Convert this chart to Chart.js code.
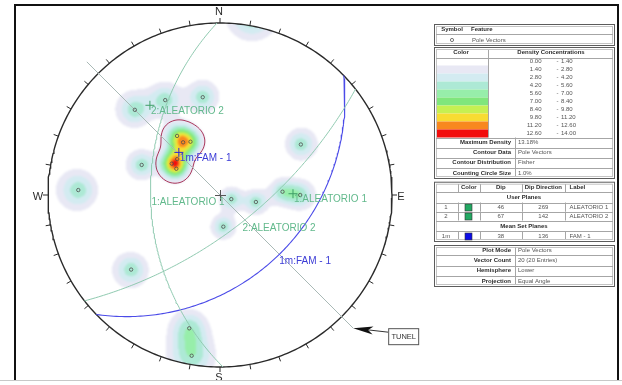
<!DOCTYPE html>
<html>
<head>
<meta charset="utf-8">
<script src="https://cdn.jsdelivr.net/npm/chart.js@4.4.1/dist/chart.umd.min.js"></script>
<style>
  html, body { margin: 0; padding: 0; background: #fff; overflow: hidden; }
  canvas { display: block; }
</style>
</head>
<body>
<canvas id="net" width="622" height="385"></canvas>
<script>
// ---- Pole vectors: trend / plunge in degrees ----
const poleTrends  = [330, 350, 315, 291, 272, 230, 58, 174, 110, 101, 87, 90, 193, 190, 324, 331, 325, 310, 303, 301];
const polePlunges = [ 25,  30,  20,  38,  11,  22, 32,  69,  82,  66, 50, 40,  13,   3,  44,  51,  49,  54,  53,  57];
// poles that make up mean set 1m
const setMembers = [14, 15, 16, 17, 18, 19];

// ---- Planes ----
const planeIds     = ['1', '2', '1m'];
const planeLabels  = ['1:ALEATORIO 1', '2:ALEATORIO 2', '1m:FAM - 1'];
const tableLabels  = ['ALEATORIO 1', 'ALEATORIO 2', 'FAM - 1'];
const planeDips    = [46, 67, 38];
const planeDipDirs = [269, 142, 136];
const planeKinds   = ['user', 'user', 'mean'];

// ---- Contouring ----
const densityLevels = [0, 1.4, 2.8, 4.2, 5.6, 7.0, 8.4, 9.8, 11.2, 12.6, 14.0];
const levelColors   = ['#ffffff', '#e8e8f4', '#d3ebf1', '#ade9d5', '#97eeaa', '#80e67c',
                       '#c6f052', '#f8dc32', '#f8881f', '#f20d0d'];
const maxDensity     = 13.18;   // %
const countingCircle = 1.0;     // % of hemisphere area
const setWindowLevel = 1.6;     // %

// ---- Tunnel axis ----
const tunnelTrend  = 135;
const tunnelExtent = 1.095;     // in primitive radii
const tunnelLabel  = 'TUNEL';

const D2R = Math.PI / 180;
const N = poleTrends.length;
const K = 120 / countingCircle;   // Fisher concentration used for the contours

const FONT = '"Liberation Sans", Arial, sans-serif';
const USER_LINE = '#8fcab0', USER_TEXT = '#62b98c', USER_MARK = '#3f9f68';
const MEAN_LINE = '#4b4be8', MEAN_TEXT = '#3c3cd6', MEAN_MARK = '#2a2ad0';

// unit vector (east, north, up) of a line given trend / plunge
function dirVec(trend, plunge) {
  const t = trend * D2R, p = plunge * D2R;
  return [Math.cos(p) * Math.sin(t), Math.cos(p) * Math.cos(t), -Math.sin(p)];
}
// equal-angle, lower hemisphere
function project(v) {
  let [e, n, u] = v;
  if (u > 0) { e = -e; n = -n; u = -u; }
  const k = 1 / (1 - u);
  return { x: e * k, y: n * k };
}
function unproject(x, y) {
  const r2 = x * x + y * y, s = 1 + r2;
  return [2 * x / s, 2 * y / s, -(1 - r2) / s];
}
const poleVecs = poleTrends.map((t, i) => dirVec(t, polePlunges[i]));
const allIdx = poleVecs.map((_, i) => i);

// Fisher density in % per 1% area
function density(v, idx) {
  let s = 0;
  for (const i of idx) {
    const p = poleVecs[i];
    const c = Math.abs(v[0] * p[0] + v[1] * p[1] + v[2] * p[2]);
    s += Math.exp(K * (c - 1));
  }
  return 100 * s / N;
}
function levelIndex(d) {
  for (let i = densityLevels.length - 2; i >= 0; i--) if (d >= densityLevels[i]) return i;
  return 0;
}

function greatCircle(dip, dipDir) {
  const s = (dipDir - 90) * D2R, a = dipDir * D2R, d = dip * D2R;
  const sv = [Math.sin(s), Math.cos(s), 0];
  const dv = [Math.cos(d) * Math.sin(a), Math.cos(d) * Math.cos(a), -Math.sin(d)];
  const pts = [];
  for (let t = 0; t <= 180; t += 1) {
    const c = Math.cos(t * D2R), sn = Math.sin(t * D2R);
    pts.push(project([c * sv[0] + sn * dv[0], c * sv[1] + sn * dv[1], c * sv[2] + sn * dv[2]]));
  }
  return pts;
}
const dipVec  = i => dirVec(planeDipDirs[i], planeDips[i]);
const planePole = i => project(dirVec(planeDipDirs[i] + 180, 90 - planeDips[i]));

const primitive = [];
for (let a = 0; a <= 360; a += 1) primitive.push({ x: Math.sin(a * D2R), y: Math.cos(a * D2R) });
const tunnelPts = [
  { x: -tunnelExtent * Math.sin(tunnelTrend * D2R), y: -tunnelExtent * Math.cos(tunnelTrend * D2R) },
  { x:  tunnelExtent * Math.sin(tunnelTrend * D2R), y:  tunnelExtent * Math.cos(tunnelTrend * D2R) }
];

function hexRgb(h) { return [parseInt(h.substr(1, 2), 16), parseInt(h.substr(3, 2), 16), parseInt(h.substr(5, 2), 16)]; }
const levelRgb = levelColors.map(hexRgb);

// ---- density raster + set window ----
let raster = null;
const densityPlugin = {
  id: 'densityRaster',
  beforeDatasetsDraw(chart) {
    const { ctx, chartArea: a, scales: { x: xs, y: ys } } = chart;
    const cx = xs.getPixelForValue(0), cy = ys.getPixelForValue(0);
    const R = xs.getPixelForValue(1) - cx;
    if (!raster) {
      raster = document.createElement('canvas');
      raster.width = chart.width; raster.height = chart.height;
      const rc = raster.getContext('2d');
      const img = rc.createImageData(chart.width, chart.height);
      for (let py = Math.floor(a.top); py < Math.ceil(a.bottom); py++) {
        for (let px = Math.floor(a.left); px < Math.ceil(a.right); px++) {
          const vx = xs.getValueForPixel(px + 0.5), vy = ys.getValueForPixel(py + 0.5);
          if (vx * vx + vy * vy > 1.02) continue;
          const d = density(unproject(vx, vy), allIdx);
          const c = levelRgb[levelIndex(d)];
          const o = (py * chart.width + px) * 4;
          img.data[o] = c[0]; img.data[o + 1] = c[1]; img.data[o + 2] = c[2]; img.data[o + 3] = 255;
        }
      }
      rc.putImageData(img, 0, 0);
    }
    ctx.save();
    ctx.beginPath(); ctx.arc(cx, cy, R, 0, Math.PI * 2); ctx.clip();
    ctx.filter = 'blur(0.8px)';
    ctx.drawImage(raster, 0, 0);
    ctx.filter = 'none';

    // set window: contour of member density
    const step = 2;
    const nx = Math.ceil((a.right - a.left) / step) + 1, ny = Math.ceil((a.bottom - a.top) / step) + 1;
    const f = new Float32Array(nx * ny);
    for (let j = 0; j < ny; j++) for (let i = 0; i < nx; i++) {
      const vx = xs.getValueForPixel(a.left + i * step), vy = ys.getValueForPixel(a.top + j * step);
      f[j * nx + i] = (vx * vx + vy * vy > 1) ? 0 : density(unproject(vx, vy), setMembers);
    }
    const L = setWindowLevel;
    const ed = (v1, v2, x1, y1, x2, y2) => { const t = (L - v1) / (v2 - v1); return [x1 + t * (x2 - x1), y1 + t * (y2 - y1)]; };
    ctx.strokeStyle = '#a0234a'; ctx.lineWidth = 0.9;
    ctx.beginPath();
    for (let j = 0; j < ny - 1; j++) for (let i = 0; i < nx - 1; i++) {
      const A = f[j * nx + i], B = f[j * nx + i + 1], C = f[(j + 1) * nx + i + 1], Dd = f[(j + 1) * nx + i];
      const pts = [];
      if ((A >= L) !== (B >= L)) pts.push(ed(A, B, i, j, i + 1, j));
      if ((B >= L) !== (C >= L)) pts.push(ed(B, C, i + 1, j, i + 1, j + 1));
      if ((C >= L) !== (Dd >= L)) pts.push(ed(C, Dd, i + 1, j + 1, i, j + 1));
      if ((Dd >= L) !== (A >= L)) pts.push(ed(Dd, A, i, j + 1, i, j));
      for (let k = 0; k + 1 < pts.length; k += 2) {
        ctx.moveTo(a.left + pts[k][0] * step, a.top + pts[k][1] * step);
        ctx.lineTo(a.left + pts[k + 1][0] * step, a.top + pts[k + 1][1] * step);
      }
    }
    ctx.stroke();
    ctx.restore();
  }
};

// ---- net furniture and annotations ----
const netPlugin = {
  id: 'netFurniture',
  afterDatasetsDraw(chart) {
    const { ctx, scales: { x: xs, y: ys } } = chart;
    const cx = xs.getPixelForValue(0), cy = ys.getPixelForValue(0);
    const R = xs.getPixelForValue(1) - cx;
    const P = p => ({ x: xs.getPixelForValue(p.x), y: ys.getPixelForValue(p.y) });
    ctx.save();
    // ticks every 10 degrees
    ctx.strokeStyle = '#2a2a2a'; ctx.lineWidth = 1;
    ctx.beginPath();
    for (let az = 0; az < 360; az += 10) {
      const s = Math.sin(az * D2R), c = Math.cos(az * D2R);
      ctx.moveTo(cx + s * R, cy - c * R);
      ctx.lineTo(cx + s * (R + 5), cy - c * (R + 5));
    }
    ctx.stroke();
    // compass letters
    ctx.fillStyle = '#2a2a2a'; ctx.font = '11px ' + FONT;
    ctx.textAlign = 'center'; ctx.textBaseline = 'middle';
    ctx.fillText('N', cx - 1, cy - R - 11);
    ctx.fillText('S', cx - 1, cy + R + 11);
    ctx.fillText('E', cx + R + 9, cy + 2);
    ctx.fillText('W', cx - R - 10, cy + 2);
    // centre cross
    ctx.strokeStyle = '#555'; ctx.lineWidth = 1;
    ctx.beginPath();
    ctx.moveTo(cx - 5, cy + 0.5); ctx.lineTo(cx + 6, cy + 0.5);
    ctx.moveTo(cx + 0.5, cy - 5); ctx.lineTo(cx + 0.5, cy + 6);
    ctx.stroke();

    // plane labels: at the dip point of each great circle and at each pole
    ctx.font = '10px ' + FONT; ctx.textAlign = 'left'; ctx.textBaseline = 'top';
    planeLabels.forEach((lab, i) => {
      ctx.fillStyle = planeKinds[i] === 'mean' ? MEAN_TEXT : USER_TEXT;
      const g = P(project(dipVec(i)));
      ctx.fillText(lab, g.x + 1, g.y + 1);
      const p = P(planePole(i));
      ctx.fillText(lab, p.x + 1, p.y + 1);
    });

    // tunnel arrow and label box
    const tip = P(tunnelPts[1]);
    const bx = tip.x + 35, by = tip.y, bw = 30, bh = 16;
    const ax = bx, ay = by + 4;
    const ang = Math.atan2(ay - tip.y, ax - tip.x);
    const ux = Math.cos(ang), uy = Math.sin(ang);
    ctx.strokeStyle = '#333'; ctx.lineWidth = 1;
    ctx.beginPath(); ctx.moveTo(tip.x + ux * 15, tip.y + uy * 15); ctx.lineTo(ax, ay); ctx.stroke();
    ctx.fillStyle = '#111';
    ctx.beginPath();
    ctx.moveTo(tip.x, tip.y);
    ctx.lineTo(tip.x + ux * 20 - uy * 4, tip.y + uy * 20 + ux * 4);
    ctx.lineTo(tip.x + ux * 15, tip.y + uy * 15);
    ctx.lineTo(tip.x + ux * 20 + uy * 4, tip.y + uy * 20 - ux * 4);
    ctx.closePath(); ctx.fill();
    ctx.fillStyle = '#fff'; ctx.fillRect(bx, by, bw, bh);
    ctx.strokeStyle = '#555'; ctx.strokeRect(bx + 0.5, by + 0.5, bw, bh);
    ctx.fillStyle = '#333'; ctx.font = '7.5px ' + FONT; ctx.textAlign = 'center'; ctx.textBaseline = 'middle';
    ctx.fillText(tunnelLabel, bx + bw / 2 + 0.5, by + bh / 2 + 1);
    ctx.restore();
  }
};

// ---- legend tables and frame ----
const statsLabels = ['Maximum Density', 'Contour Data', 'Contour Distribution', 'Counting Circle Size'];
const statsValues = [maxDensity.toFixed(2) + '%', 'Pole Vectors', 'Fisher', countingCircle.toFixed(1) + '%'];
const infoLabels  = ['Plot Mode', 'Vector Count', 'Hemisphere', 'Projection'];
const infoValues  = ['Pole Vectors', N + ' (' + N + ' Entries)', 'Lower', 'Equal Angle'];

const tablePlugin = {
  id: 'legendTables',
  afterDraw(chart) {
    const ctx = chart.ctx;
    ctx.save();
    const X0 = 434, X1 = 614;
    const outer = (y0, y1) => {
      ctx.lineWidth = 1;
      ctx.strokeStyle = '#5c5c5c'; ctx.strokeRect(X0 + 0.5, y0 + 0.5, X1 - X0, y1 - y0);
      ctx.strokeStyle = '#c4c4c4'; ctx.strokeRect(X0 + 2.5, y0 + 2.5, X1 - X0 - 4, y1 - y0 - 4);
    };
    const hl = (x0, x1, y) => { ctx.strokeStyle = '#a6a6a6'; ctx.lineWidth = 1; ctx.beginPath(); ctx.moveTo(x0 + 2, Math.round(y) + 0.5); ctx.lineTo(x1 - 1, Math.round(y) + 0.5); ctx.stroke(); };
    const vl = (x, y0, y1) => { ctx.strokeStyle = '#a6a6a6'; ctx.lineWidth = 1; ctx.beginPath(); ctx.moveTo(Math.round(x) + 0.5, y0); ctx.lineTo(Math.round(x) + 0.5, y1); ctx.stroke(); };
    const txt = (s, x, y, align, bold, col) => {
      ctx.font = (bold ? 'bold ' : '') + '6px ' + FONT;
      ctx.fillStyle = col || (bold ? '#2c2c2c' : '#555');
      ctx.textAlign = align; ctx.textBaseline = 'middle'; ctx.fillText(s, x, y);
    };

    // symbol table
    outer(24, 45); hl(X0, X1, 34);
    txt('Symbol', 452, 29.5, 'center', true);
    txt('Feature', 471, 29.5, 'left', true);
    ctx.strokeStyle = '#555'; ctx.lineWidth = 0.8; ctx.beginPath(); ctx.arc(452, 40, 1.6, 0, Math.PI * 2); ctx.stroke();
    txt('Pole Vectors', 472, 40, 'left', false);

    // density table
    const ty = 47, rowH = 8, rows0 = 57.5;
    outer(ty, 178);
    for (let i = 0; i < levelColors.length; i++) {
      ctx.fillStyle = levelColors[i];
      ctx.fillRect(X0 + 3, rows0 + i * rowH, 488 - X0 - 3, rowH);
      const yc = rows0 + i * rowH + rowH / 2;
      txt(densityLevels[i].toFixed(2), 541.5, yc, 'right', false);
      txt('-', 557.5, yc, 'center', false);
      txt(densityLevels[i + 1].toFixed(2), 561, yc, 'left', false);
    }
    const rowsEnd = rows0 + levelColors.length * rowH;
    hl(X0, X1, rows0); vl(488, ty + 3, rowsEnd); hl(X0, X1, rowsEnd);
    txt('Color', 461, 52.5, 'center', true);
    txt('Density Concentrations', 551, 52.5, 'center', true);
    const sh = (178 - rowsEnd) / statsLabels.length;
    statsLabels.forEach((s, i) => {
      const yc = rowsEnd + sh * i + sh / 2;
      if (i > 0) hl(X0, X1, rowsEnd + sh * i);
      txt(s, 511, yc, 'right', true);
      txt(statsValues[i], 518, yc, 'left', false);
    });
    vl(514.7, rowsEnd, 176);

    // planes table
    const cols = [458, 479.7, 522, 564.7];
    const pr = [181.7, 192, 202.5, 211.5, 220.5, 231, 241];
    outer(pr[0], pr[6]);
    for (let k = 1; k < 6; k++) hl(X0, X1, pr[k]);
    [[0, 1], [2, 3], [3, 4], [5, 6]].forEach(([a, b]) => cols.forEach(c => vl(c, pr[a] + (a === 0 ? 2.5 : 0), pr[b] - (b === 6 ? 2 : 0))));
    txt('Color', 468.8, 187, 'center', true);
    txt('Dip', 500.8, 187, 'center', true);
    txt('Dip Direction', 543.3, 187, 'center', true);
    txt('Label', 569.5, 187, 'left', true);
    txt('User Planes', 524, 197.5, 'center', true);
    txt('Mean Set Planes', 524, 226, 'center', true);
    const rowY = [207, 216, 236];
    planeIds.forEach((id, i) => {
      const yc = rowY[i];
      txt(id, 446, yc, 'center', false);
      ctx.fillStyle = planeKinds[i] === 'mean' ? '#0c0ce6' : '#22a862';
      ctx.fillRect(465, yc - 3, 7, 7);
      ctx.strokeStyle = '#333'; ctx.lineWidth = 0.6; ctx.strokeRect(465, yc - 3, 7, 7);
      txt(String(planeDips[i]), 500.8, yc, 'center', false);
      txt(String(planeDipDirs[i]), 543.3, yc, 'center', false);
      txt(tableLabels[i], 569.5, yc, 'left', false);
    });

    // plot info table
    const ir = [245, 255.2, 265.5, 275.7, 286];
    outer(ir[0], ir[4]);
    for (let k = 1; k < 4; k++) hl(X0, X1, ir[k]);
    vl(514.7, ir[0] + 2.5, ir[4] - 2);
    infoLabels.forEach((s, i) => {
      const yc = (ir[i] + ir[i + 1]) / 2;
      txt(s, 511, yc, 'right', true);
      txt(infoValues[i], 518, yc, 'left', false);
    });

    // outer frame
    ctx.strokeStyle = '#111'; ctx.lineWidth = 2;
    ctx.beginPath();
    ctx.moveTo(15, 381); ctx.lineTo(15, 5); ctx.lineTo(618, 5); ctx.lineTo(618, 381);
    ctx.stroke();
    ctx.strokeStyle = '#c8c8c8'; ctx.lineWidth = 1;
    ctx.beginPath(); ctx.moveTo(0, 380.5); ctx.lineTo(622, 380.5); ctx.stroke();
    ctx.restore();
  }
};

const datasets = [];
// poles (drawn on top)
datasets.push({
  label: 'Pole Vectors',
  data: poleVecs.map(project),
  showLine: false, pointStyle: 'circle', pointRadius: 1.7,
  pointBackgroundColor: 'rgba(0,0,0,0)', pointBorderColor: '#4d4d4d', pointBorderWidth: 0.8
});
// plane poles
planeIds.forEach((id, i) => datasets.push({
  label: 'pole ' + id,
  data: [planePole(i)],
  showLine: false, pointStyle: 'cross', pointRadius: 4.5, pointBorderWidth: 1,
  pointBorderColor: planeKinds[i] === 'mean' ? MEAN_MARK : USER_MARK
}));
// great circles
planeIds.forEach((id, i) => datasets.push({
  label: 'plane ' + id,
  data: greatCircle(planeDips[i], planeDipDirs[i]),
  showLine: true, pointRadius: 0, tension: 0, clip: false,
  borderColor: planeKinds[i] === 'mean' ? MEAN_LINE : USER_LINE,
  borderWidth: planeKinds[i] === 'mean' ? 1.1 : 1
}));
// tunnel axis
datasets.push({
  label: tunnelLabel, data: tunnelPts,
  showLine: true, pointRadius: 0, clip: false, borderColor: '#a9b9b6', borderWidth: 1
});
// primitive circle
datasets.push({
  label: 'primitive', data: primitive,
  showLine: true, pointRadius: 0, clip: false, borderColor: '#2a2a2a', borderWidth: 1.4
});

new Chart(document.getElementById('net'), {
  type: 'scatter',
  data: { datasets },
  options: {
    responsive: false, animation: false, devicePixelRatio: 1,
    layout: { padding: { left: 48, top: 23, right: 230, bottom: 18 } },
    scales: {
      x: { type: 'linear', min: -1, max: 1, display: false },
      y: { type: 'linear', min: -1, max: 1, display: false }
    },
    plugins: { legend: { display: false }, tooltip: { enabled: false } }
  },
  plugins: [densityPlugin, netPlugin, tablePlugin]
});
</script>
</body>
</html>
